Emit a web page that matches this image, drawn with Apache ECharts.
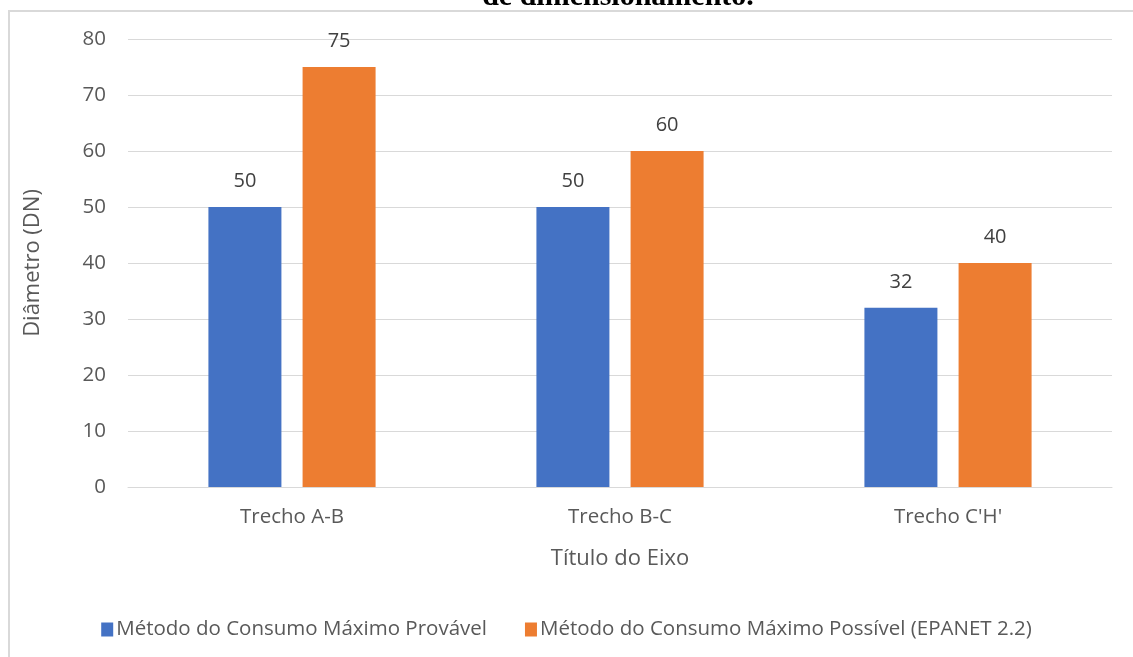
<!DOCTYPE html>
<html>
<head>
<meta charset="utf-8">
<script src="https://cdn.jsdelivr.net/npm/echarts@6/dist/echarts.min.js"></script>
<style>
  html, body { margin: 0; padding: 0; background: #fff; }
  #frame { position: absolute; left: 8px; top: 10px; width: 1125px; height: 647px;
           border-left: 2px solid #d9d9d9; border-top: 2px solid #d9d9d9; box-sizing: border-box; }
  #chart { position: absolute; left: 0; top: 0; width: 1133px; height: 657px; }
</style>
</head>
<body>
<div id="frame"></div>
<div id="chart"></div>
<script>
const categories = ['Trecho A-B', 'Trecho B-C', "Trecho C'H'"];
const provavel = [50, 50, 32];
const possivel = [75, 60, 40];
const yTicks = [0, 10, 20, 30, 40, 50, 60, 70, 80];

const font = '"Open Sans", "Noto Sans", sans-serif';
const chart = echarts.init(document.getElementById('chart'));

const labelStyle = {
  show: true,
  position: 'top',
  distance: 16,
  color: '#404040',
  fontSize: 20,
  fontFamily: font
};

chart.setOption({
  animation: false,
  title: {
    text: 'de dimensionamento.',
    left: 613,
    textAlign: 'center',
    top: -23,
    textStyle: { fontFamily: '"Liberation Serif", serif', fontWeight: 'bold', fontSize: 30, color: '#000' }
  },
  grid: { left: 128, right: 21, top: 39, bottom: 170 },
  legend: {
    bottom: 12,
    left: 'center',
    itemWidth: 12,
    itemHeight: 14,
    itemGap: 38,
    icon: 'rect',
    textStyle: { fontFamily: font, fontSize: 20.5, color: '#595959', padding: [0, 0, 0, -2] },
    data: ['Método do Consumo Máximo Provável', 'Método do Consumo Máximo Possível (EPANET 2.2)']
  },
  xAxis: {
    type: 'category',
    data: categories,
    name: 'Título do Eixo',
    nameLocation: 'middle',
    nameGap: 61,
    nameTextStyle: { fontFamily: font, fontSize: 22, color: '#595959' },
    axisLine: { lineStyle: { color: '#d9d9d9', width: 1 } },
    axisTick: { show: false },
    axisLabel: { fontFamily: font, fontSize: 20.5, color: '#595959', margin: 20 }
  },
  yAxis: {
    type: 'value',
    min: yTicks[0],
    max: yTicks[yTicks.length - 1],
    interval: 10,
    name: 'Diâmetro (DN)',
    nameLocation: 'middle',
    nameGap: 84,
    nameTextStyle: { fontFamily: font, fontSize: 22, color: '#595959' },
    axisLine: { show: false },
    axisTick: { show: false },
    axisLabel: { fontFamily: font, fontSize: 20.5, color: '#595959', margin: 22 },
    splitLine: { lineStyle: { color: '#d9d9d9', width: 1 } }
  },
  series: [
    {
      name: 'Método do Consumo Máximo Provável',
      type: 'bar',
      data: provavel,
      barWidth: 73,
      barGap: '29%',
      itemStyle: { color: '#4472C4' },
      label: labelStyle
    },
    {
      name: 'Método do Consumo Máximo Possível (EPANET 2.2)',
      type: 'bar',
      data: possivel,
      barWidth: 73,
      itemStyle: { color: '#ED7D31' },
      label: labelStyle
    }
  ]
});

window.addEventListener('resize', () => chart.resize());
</script>
</body>
</html>
